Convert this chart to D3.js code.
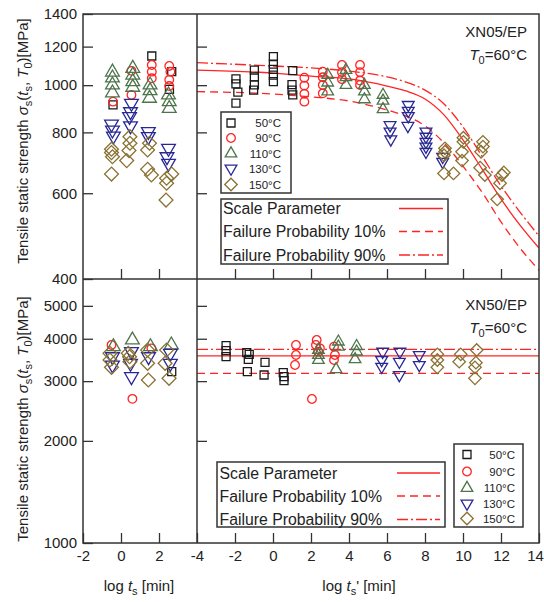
<!DOCTYPE html>
<html>
<head>
<meta charset="utf-8">
<script src="https://cdn.jsdelivr.net/npm/d3@7"></script>
<style>
  body { margin: 0; background: #fff; }
  text { font-family: "Liberation Sans", Arial, sans-serif; fill: #222; }
</style>
</head>
<body>
<div id="chart"></div>
<script>

// ---- data: [log time, strength MPa] ----
// top panel XN05/EP, left part (log ts)
var tl50  = [[1.62,1148],[2.67,1066],[2.55,980],[-0.42,911]];
var tl90  = [[-0.42,925],[0.55,955],[0.55,1070],[1.62,1100],[1.62,1066],[1.62,1033],[2.54,1095],[2.6,1066],[2.54,1026],[2.54,996]];
var tl110 = [[-0.45,1064],[-0.45,1035],[-0.45,1001],[-0.45,964],[0.62,1083],[0.62,1049],[0.62,1017],[0.62,990],
             [1.53,1001],[1.53,974],[1.5,940],[2.5,955],[2.54,925],[2.54,896]];
var tl130 = [[-0.5,832],[-0.45,809],[-0.4,786],[0.55,918],[0.5,882],[0.45,862],[0.5,825],[1.44,803],[1.44,784],
             [2.5,742],[2.42,713],[2.5,691]];
var tl150 = [[-0.5,739],[-0.5,727],[-0.45,713],[-0.5,657],[0.47,784],[0.47,760],[0.42,734],[0.3,700],
             [1.5,760],[1.4,736],[1.4,672],[1.6,654],[2.67,657],[2.4,644],[2.4,629],[2.37,581]];

// top panel, right part (log ts')
var tr50  = [[-1.95,1030],[-1.95,1006],[-1.85,968],[-1.95,919],[-0.98,1074],[-0.98,1040],[-0.98,1001],[-1.02,977],
             [0.02,1144],[0.02,1105],[0.02,1078],[0.02,1049],[0.02,1017],[1.04,1071],[1.0,1003],[1.0,977],[1.04,955]];
var tr90  = [[1.65,1036],[1.65,998],[1.65,960],[1.65,925],[2.62,1066],[2.62,1038],[2.62,1001],[2.62,962],
             [3.63,1100],[3.63,1063],[3.63,1029],[4.58,1100],[4.58,1063],[4.58,1022],[4.58,1001]];
var tr110 = [[2.88,1049],[2.88,1012],[2.88,970],[3.84,1074],[3.84,1038],[3.84,1001],[4.81,1001],[4.81,970],[4.81,935],
             [5.79,955],[5.79,929],[5.79,892]];
var tr130 = [[6.16,828],[6.16,803],[6.2,774],[7.12,911],[7.12,886],[7.12,864],[7.1,825],
             [8.05,803],[8.05,784],[8.05,765],[8.05,748],[8.05,730],[8.93,713],[8.93,696]];
var tr150 = [[9.05,742],[9.05,730],[9.0,718],[9.0,659],[9.5,659],[10.02,780],[10.02,765],[9.95,730],[9.95,700],
             [11.05,765],[11.05,748],[10.95,730],[10.9,677],[11.15,654],[12.05,654],[11.95,629],[11.8,583],[12.15,662]];

// top panel curves
var topScale = [[-4,1074],[0,1059],[2,1044],[4,1030],[6,996],[7,973],[8,937],[9,869],[10,772],[11,673],[12,584],[13,516],[14,463]];
var top10    = [[-4,970],[0,959],[2,946],[4,928],[6,889],[7,864],[8,825],[9,761],[10,682],[11,603],[12,524],[13,463],[14,417]];
var top90    = [[-4,1112],[0,1095],[2,1085],[4,1069],[6,1040],[7,1015],[8,977],[9,915],[10,821],[11,715],[12,621],[13,549],[14,490]];

// bottom panel XN50/EP, left part
var bl50  = [[2.67,3198]];
var bl90  = [[-0.5,3834],[0.6,2660],[1.6,3748]];
var bl110 = [[-0.4,3789],[0.6,3966],[1.55,3789],[2.65,3834]];
var bl130 = [[-0.45,3541],[-0.45,3347],[0.55,3664],[0.5,3386],[0.55,3092],[1.45,3541],[2.6,3624],[2.6,3386]];
var bl150 = [[-0.58,3624],[-0.58,3463],[-0.5,3295],[0.38,3624],[0.47,3423],[0.45,3541],[1.4,3706],[1.4,3386],[1.44,3023],
             [2.4,3706],[2.32,3386],[2.53,3058]];

// bottom panel, right part
var br50  = [[-2.47,3816],[-2.47,3689],[-2.47,3541],[-1.38,3638],[-1.25,3599],[-1.3,3479],[-1.35,3198],
             [-0.42,3409],[-0.47,3127],[0.54,3177],[0.58,3092],[0.58,3009]];
var br90  = [[1.21,3834],[1.21,3582],[1.16,3347],[2.3,3966],[2.26,3834],[2.47,3748],[2.38,3664],[2.05,2657],
             [3.21,3789],[3.26,3582],[3.21,3463]];
var br110 = [[2.39,3706],[2.39,3582],[2.39,3463],[3.44,3921],[3.44,3789],[3.32,3251],[4.4,3803],[4.4,3664],[4.32,3479]];
var br130 = [[5.77,3664],[5.72,3463],[5.72,3309],[6.68,3664],[6.65,3423],[6.65,3127],[7.7,3582],[7.7,3347]];
var br150 = [[8.65,3599],[8.65,3463],[8.65,3295],[9.88,3599],[9.8,3423],[10.72,3706],[10.68,3400],[10.63,3295],[10.63,3058]];

// bottom panel lines (constant)
var botScale = [[-4,3560],[14,3560]];
var bot10    = [[-4,3160],[14,3160]];
var bot90    = [[-4,3720],[14,3720]];

var tempLabels = ["50\u00b0C", "90\u00b0C", "110\u00b0C", "130\u00b0C", "150\u00b0C"];
var lineLabels = ["Scale Parameter", "Failure Probability 10%", "Failure Probability 90%"];

// ---- layout ----
var W = 544, H = 602;
var x0 = 83, xm = 197, x1 = 539;
var yTop = 14, ym = 279, yBot = 543;

var svg = d3.select("#chart").append("svg")
    .attr("width", W)
    .attr("height", H);

var xL = d3.scaleLinear().domain([-2, 4]).range([x0, xm]);
var xR = d3.scaleLinear().domain([-4, 14]).range([xm, x1]);
var yT = d3.scaleLog().domain([400, 1400]).range([ym, yTop]);
var yB = d3.scaleLog().domain([1000, 6000]).range([yBot, ym]);

var colors = ["#1a1a1a", "#ff2424", "#4d744b", "#282894", "#8a7232"];
var red = "#ff2424";

// marker shapes: square, circle, up triangle, down triangle, diamond
function markerPath(i, big) {
  var s = [64, 58, big ? 82 : 58, big ? 82 : 60, big ? 96 : 78][i];
  var t = [d3.symbolSquare, d3.symbolCircle, d3.symbolTriangle, d3.symbolTriangle, d3.symbolSquare][i];
  return d3.symbol().type(t).size(s)();
}
function markerRot(i) {
  return i == 3 ? 180 : (i == 4 ? 45 : 0);
}

function drawPoints(g, data, xs, ys, i, big) {
  g.selectAll(null)
      .data(data)
    .enter().append("path")
      .attr("d", markerPath(i, big))
      .attr("transform", function(d) { return "translate(" + xs(d[0]) + "," + ys(d[1]) + ") rotate(" + markerRot(i) + ")"; })
      .attr("fill", "none")
      .attr("stroke", colors[i])
      .attr("stroke-width", 1.3);
}

// clip for the right panels
var defs = svg.append("defs");
defs.append("clipPath").attr("id", "clipTop")
  .append("rect").attr("x", xm).attr("y", yTop).attr("width", x1 - xm).attr("height", ym - yTop);
defs.append("clipPath").attr("id", "clipBot")
  .append("rect").attr("x", xm).attr("y", ym).attr("width", x1 - xm).attr("height", yBot - ym);

var dashes = [null, "8,5", "11,3,2,3"];

function drawCurves(clip, ys, sets) {
  var line = d3.line()
      .x(function(d) { return xR(d[0]); })
      .y(function(d) { return ys(d[1]); })
      .curve(d3.curveMonotoneX);
  var g = svg.append("g").attr("clip-path", "url(#" + clip + ")");
  sets.forEach(function(s, k) {
    g.append("path")
      .attr("d", line(s))
      .attr("fill", "none")
      .attr("stroke", red)
      .attr("stroke-width", 1.3)
      .attr("stroke-dasharray", dashes[k]);
  });
}

drawCurves("clipTop", yT, [topScale, top10, top90]);
drawCurves("clipBot", yB, [botScale, bot10, bot90]);

var pts = svg.append("g");
[tl50, tl90, tl110, tl130, tl150].forEach(function(d, i) { drawPoints(pts, d, xL, yT, i, true); });
[tr50, tr90, tr110, tr130, tr150].forEach(function(d, i) { drawPoints(pts, d, xR, yT, i, false); });
[bl50, bl90, bl110, bl130, bl150].forEach(function(d, i) { drawPoints(pts, d, xL, yB, i, true); });
[br50, br90, br110, br130, br150].forEach(function(d, i) { drawPoints(pts, d, xR, yB, i, false); });

// ---- axes ----
function styleAxis(g, fs) {
  g.select(".domain").remove();
  g.selectAll(".tick line").attr("stroke", "#333").attr("stroke-width", 1.3);
  g.selectAll(".tick text").attr("font-size", fs).attr("fill", "#222")
    .style("font-family", "'Liberation Sans', Arial, sans-serif");
}

// left y axes with labels, ticks pointing inward
svg.append("g").attr("transform", "translate(" + x0 + ",0)")
  .call(d3.axisLeft(yT).tickValues([400, 600, 800, 1000, 1200, 1400]).tickFormat(d3.format("d"))
        .tickSizeInner(-10).tickSizeOuter(0).tickPadding(6))
  .call(styleAxis, 15);
svg.append("g").attr("transform", "translate(" + x0 + ",0)")
  .call(d3.axisLeft(yB).tickValues([1000, 2000, 3000, 4000, 5000]).tickFormat(d3.format("d"))
        .tickSizeInner(-10).tickSizeOuter(0).tickPadding(6))
  .call(styleAxis, 15);

// ticks on the divider for the right panels
svg.append("g").attr("transform", "translate(" + xm + ",0)")
  .call(d3.axisRight(yT).tickValues([600, 800, 1000, 1200]).tickFormat("").tickSizeInner(10).tickSizeOuter(0))
  .call(styleAxis, 15);
svg.append("g").attr("transform", "translate(" + xm + ",0)")
  .call(d3.axisRight(yB).tickValues([2000, 3000, 4000, 5000]).tickFormat("").tickSizeInner(10).tickSizeOuter(0))
  .call(styleAxis, 15);

// x ticks, top panel (no labels)
svg.append("g").attr("transform", "translate(0," + ym + ")")
  .call(d3.axisBottom(xL).tickValues([0, 2]).tickFormat("").tickSizeInner(-10).tickSizeOuter(0))
  .call(styleAxis, 15);
svg.append("g").attr("transform", "translate(0," + ym + ")")
  .call(d3.axisBottom(xR).tickValues([-2, 0, 2, 4, 6, 8, 10, 12]).tickFormat("").tickSizeInner(-10).tickSizeOuter(0))
  .call(styleAxis, 15);

// x ticks + labels, bottom panel
svg.append("g").attr("transform", "translate(0," + yBot + ")")
  .call(d3.axisBottom(xL).tickValues([-2, 0, 2]).tickFormat(function(d) { return String(d); })
        .tickSizeInner(-10).tickSizeOuter(0).tickPadding(7))
  .call(styleAxis, 15);
var xAxisR = svg.append("g").attr("transform", "translate(0," + yBot + ")")
  .call(d3.axisBottom(xR).tickValues([-4, -2, 0, 2, 4, 6, 8, 10, 12, 14]).tickFormat(function(d) { return String(d); })
        .tickSizeInner(-10).tickSizeOuter(0).tickPadding(7))
  .call(styleAxis, 15);
// keep the last label inside the window
xAxisR.selectAll(".tick text").filter(function(d) { return d == 14; }).attr("dx", -4);

// frame and dividers
var frame = svg.append("g").attr("fill", "none").attr("stroke", "#333").attr("stroke-width", 1.5);
frame.append("rect").attr("x", x0).attr("y", yTop).attr("width", x1 - x0).attr("height", yBot - yTop);
frame.append("line").attr("x1", xm).attr("x2", xm).attr("y1", yTop).attr("y2", yBot);
frame.append("line").attr("x1", x0).attr("x2", x1).attr("y1", ym).attr("y2", ym);

// ---- axis titles ----
function yTitle(cy) {
  var t = svg.append("text")
      .attr("transform", "translate(28," + cy + ") rotate(-90)")
      .attr("text-anchor", "middle")
      .attr("font-size", 15);
  t.append("tspan").text("Tensile static strength ");
  t.append("tspan").attr("font-style", "italic").text("\u03c3");
  t.append("tspan").attr("font-size", 11).attr("dy", 4).text("s");
  t.append("tspan").attr("dy", -4).text("(");
  t.append("tspan").attr("font-style", "italic").text("t");
  t.append("tspan").attr("font-size", 11).attr("dy", 4).text("s");
  t.append("tspan").attr("dy", -4).text(", ");
  t.append("tspan").attr("font-style", "italic").text("T");
  t.append("tspan").attr("font-size", 11).attr("dy", 4).text("0");
  t.append("tspan").attr("dy", -4).text(")[MPa]");
}
yTitle(141);
yTitle(419);

function xTitle(cx, prime) {
  var t = svg.append("text")
      .attr("x", cx).attr("y", 591)
      .attr("text-anchor", "middle")
      .attr("font-size", 15);
  t.append("tspan").text("log ");
  t.append("tspan").attr("font-style", "italic").text("t");
  t.append("tspan").attr("font-size", 11).attr("dy", 4).text("s");
  t.append("tspan").attr("dy", -4).text((prime ? "' " : " ") + "[min]");
}
xTitle(139, false);
xTitle(359, true);

// ---- panel notes ----
function panelNote(name, yb) {
  svg.append("text").attr("x", 527).attr("y", yb)
    .attr("text-anchor", "end").attr("font-size", 15).text(name);
  var t = svg.append("text").attr("x", 527).attr("y", yb + 23)
    .attr("text-anchor", "end").attr("font-size", 15);
  t.append("tspan").attr("font-style", "italic").text("T");
  t.append("tspan").attr("font-size", 11).attr("dy", 4).text("0");
  t.append("tspan").attr("dy", -4).text("=60\u00b0C");
}
panelNote("XN05/EP", 37);
panelNote("XN50/EP", 310);

// ---- legends ----
function markerLegend(bx, by, bw, bh, mx, tx, rows) {
  svg.append("rect").attr("x", bx).attr("y", by).attr("width", bw).attr("height", bh)
    .attr("fill", "#fff").attr("stroke", "#333").attr("stroke-width", 1.5);
  tempLabels.forEach(function(lab, i) {
    svg.append("path")
      .attr("d", markerPath(i, false))
      .attr("transform", "translate(" + mx + "," + rows[i] + ") rotate(" + markerRot(i) + ")")
      .attr("fill", "none").attr("stroke", colors[i]).attr("stroke-width", 1.3);
    svg.append("text").attr("x", tx).attr("y", rows[i] + 4)
      .attr("text-anchor", "end").attr("font-size", 11.5).text(lab);
  });
}

function lineLegend(bx, by, bw, bh, tx, lx0, lx1, rows) {
  svg.append("rect").attr("x", bx).attr("y", by).attr("width", bw).attr("height", bh)
    .attr("fill", "#fff").attr("stroke", "#333").attr("stroke-width", 1.5);
  lineLabels.forEach(function(lab, k) {
    svg.append("text").attr("x", tx).attr("y", rows[k] + 5.5)
      .attr("font-size", 15.8).text(lab);
    svg.append("line").attr("x1", lx0).attr("x2", lx1).attr("y1", rows[k]).attr("y2", rows[k])
      .attr("stroke", red).attr("stroke-width", 1.3).attr("stroke-dasharray", dashes[k]);
  });
}

markerLegend(221, 112, 70, 81, 231, 281, [123, 138, 153.5, 168.5, 184.5]);
lineLegend(221, 199, 227, 65, 223, 399, 443, [208.5, 231.5, 255]);

lineLegend(217, 462, 228, 65, 219.5, 397, 440, [473, 496, 519.5]);
markerLegend(454, 444, 69, 83, 467, 515, [454.5, 471.5, 488, 503.5, 518.5]);

</script>
</body>
</html>
